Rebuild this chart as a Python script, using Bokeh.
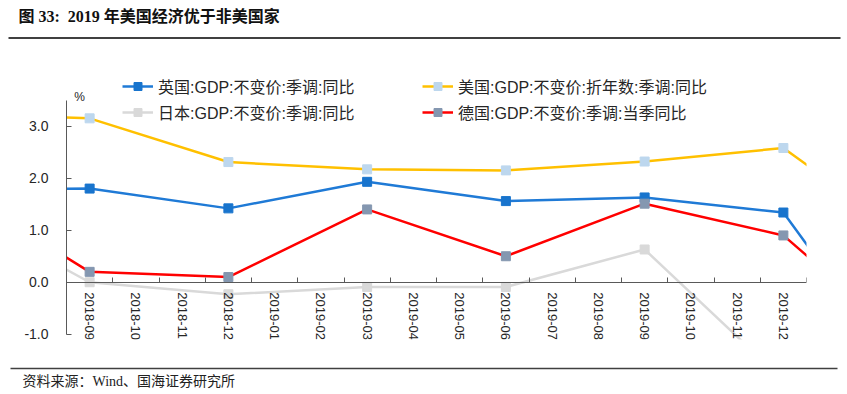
from bokeh.plotting import figure
from bokeh.models import (Range1d, LinearAxis, FixedTicker, Legend, LegendItem,
                          Label, NumeralTickFormatter)
from bokeh.layouts import column
from bokeh.embed import file_html
from bokeh.resources import INLINE
from bokeh.core.properties import value

TITLE = "图 33:\u00a0 2019 年美国经济优于非美国家"
SOURCE = "资料来源：Wind、国海证券研究所"
UNIT = "%"

months = ["2018-09", "2018-10", "2018-11", "2018-12", "2019-01", "2019-02",
          "2019-03", "2019-04", "2019-05", "2019-06", "2019-07", "2019-08",
          "2019-09", "2019-10", "2019-11", "2019-12"]
quarters = ["2018-06", "2018-09", "2018-12", "2019-03", "2019-06",
            "2019-09", "2019-12", "2020-03"]

uk_name = "英国:GDP:不变价:季调:同比"
us_name = "美国:GDP:不变价:折年数:季调:同比"
jp_name = "日本:GDP:不变价:季调:同比"
de_name = "德国:GDP:不变价:季调:当季同比"

uk = [1.78, 1.80, 1.42, 1.93, 1.56, 1.63, 1.34, -2.3]
us = [3.25, 3.15, 2.31, 2.17, 2.15, 2.32, 2.58, 0.66]
jp = [1.45, 0.00, -0.23, -0.09, -0.09, 0.63, -1.88, -1.8]
de = [1.85, 0.20, 0.10, 1.40, 0.50, 1.51, 0.90, -1.4]

y_ticks = [-1.0, 0.0, 1.0, 2.0, 3.0]


def month_index(s):
    y, m = s.split("-")
    return (int(y) - 2018) * 12 + int(m) - 9


qx = [month_index(q) for q in quarters]

LATIN = "Liberation Sans"
MIX = "Liberation Sans, Noto Sans CJK SC"
SERIF_MIX = "Liberation Serif, Noto Sans CJK SC"
AXIS_C = "#595959"
TEXT_C = "#262626"
RULE_C = "#404040"

W = 847
HDR_H, MAIN_H, FTR_H = 40, 320, 34
MAIN_TOP = HDR_H                      # page y of the main figure
FL, FR, FT, FB = 66, 806, 58, 339     # frame edges in page pixels


def blank(h):
    f = figure(width=W, height=h, output_backend="svg", toolbar_location=None,
               x_range=Range1d(0, W), y_range=Range1d(h, 0),
               min_border=0, x_axis_location=None, y_axis_location=None)
    f.outline_line_color = None
    f.grid.visible = False
    f.frame_align = False
    return f


# ---------------- header ----------------
hdr = blank(HDR_H)
hdr.text(x=[18], y=[15.5], text=[TITLE], text_font=value(SERIF_MIX),
         text_font_size="16px", text_font_style="bold", text_color="#111111",
         text_baseline="middle", text_align="left")
hdr.segment(x0=[8], y0=[37.5], x1=[840], y1=[37.5], line_color=RULE_C, line_width=2)

# ---------------- main chart ----------------
p = figure(width=W, height=MAIN_H, output_backend="svg", toolbar_location=None,
           x_range=Range1d(-0.5, 15.5), y_range=Range1d(-1.1, 4.3),
           min_border_left=FL, min_border_right=W - FR,
           min_border_top=FT - MAIN_TOP,
           min_border_bottom=MAIN_TOP + MAIN_H - FB,
           x_axis_location=None, y_axis_location=None)
p.outline_line_color = None
p.grid.visible = False
p.frame_align = False

yaxis = LinearAxis(ticker=FixedTicker(ticks=y_ticks),
                   formatter=NumeralTickFormatter(format="0.0"),
                   bounds=(-1.0, 3.5))
yaxis.axis_line_color = AXIS_C
yaxis.major_tick_line_color = AXIS_C
yaxis.major_tick_in = 5
yaxis.major_tick_out = 0
yaxis.minor_tick_line_color = None
yaxis.major_label_standoff = 18
yaxis.major_label_text_font = LATIN
yaxis.major_label_text_font_size = "14px"
yaxis.major_label_text_color = TEXT_C
p.add_layout(yaxis, "left")

xaxis = LinearAxis(ticker=FixedTicker(ticks=list(range(len(months))),
                                      minor_ticks=[i - 0.5 for i in range(len(months) + 1)]),
                   major_label_overrides={i: m for i, m in enumerate(months)},
                   fixed_location=0)
xaxis.major_label_orientation = "vertical"
xaxis.axis_line_color = AXIS_C
xaxis.major_tick_in = 0
xaxis.major_tick_out = 0
xaxis.minor_tick_in = 5
xaxis.minor_tick_out = 0
xaxis.minor_tick_line_color = AXIS_C
xaxis.major_label_standoff = 10
xaxis.major_label_text_font = LATIN
xaxis.major_label_text_font_size = "13px"
xaxis.major_label_text_color = TEXT_C
p.add_layout(xaxis, "below")

series = [
    (uk_name, uk, "#1F7AD6", "#1874CD"),
    (us_name, us, "#FFC000", "#BDD7EE"),
    (jp_name, jp, "#D9D9D9", "#D9D9D9"),
    (de_name, de, "#FF0000", "#8497B0"),
]
items = []
for name, vals, lc, mc in series:
    ln = p.line(qx, vals, line_color=lc, line_width=2.5)
    sc = p.scatter(qx, vals, marker="square", size=9, fill_color=mc, line_color=mc)
    items.append(LegendItem(label=name, renderers=[ln, sc]))


def make_legend(its, loc):
    return Legend(items=its, location=loc, orientation="vertical",
                  padding=0, margin=0, spacing=2, glyph_width=31, glyph_height=20,
                  label_height=20, label_standoff=5, border_line_color=None,
                  background_fill_alpha=0, label_text_font=MIX,
                  label_text_font_size="16px", label_text_color=TEXT_C)


LEG_Y = FB - 124
p.add_layout(make_legend([items[0], items[2]], (122 - FL, LEG_Y)))
p.add_layout(make_legend([items[1], items[3]], (422 - FL, LEG_Y)))

p.add_layout(Label(x=-0.5, y=3.5, x_offset=13, y_offset=3, text=UNIT,
                   text_font=LATIN, text_font_size="12px", text_color=TEXT_C,
                   text_align="center", text_baseline="middle"))

# ---------------- footer ----------------
ftr = blank(FTR_H)
ftr.segment(x0=[10], y0=[8], x1=[837], y1=[8], line_color=RULE_C, line_width=1.5)
ftr.text(x=[22], y=[21], text=[SOURCE], text_font=value(SERIF_MIX),
         text_font_size="14px", text_color="#222222",
         text_baseline="middle", text_align="left")

layout = column(hdr, p, ftr, spacing=0)
open("out.html", "w").write(file_html(layout, INLINE))
